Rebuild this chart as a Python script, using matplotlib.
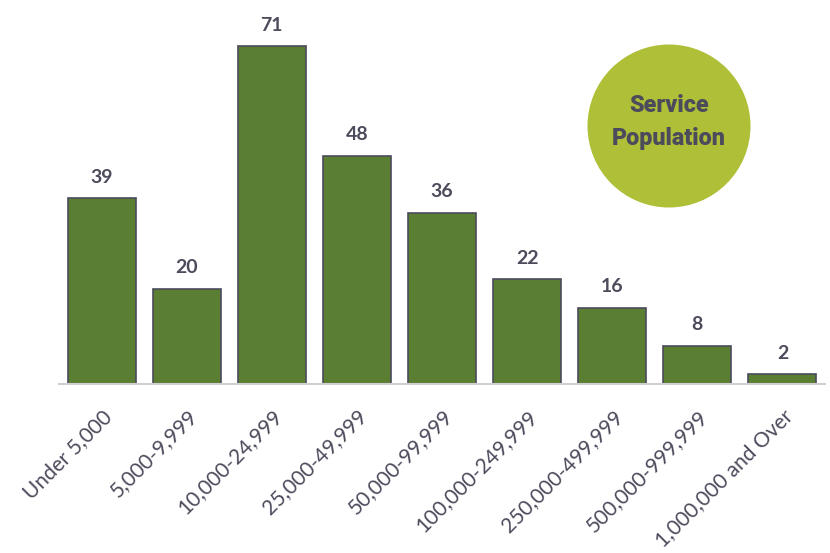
import matplotlib.pyplot as plt
from matplotlib.patches import Circle

categories = ["Under 5,000", "5,000-9,999", "10,000-24,999", "25,000-49,999",
              "50,000-99,999", "100,000-249,999", "250,000-499,999",
              "500,000-999,999", "1,000,000 and Over"]
counts = [39, 20, 71, 48, 36, 22, 16, 8, 2]

bar_color = "#5a7f32"
edge_color = "#4b4b5c"
text_color = "#4b4b5c"

fig = plt.figure(figsize=(8.3, 5.53), dpi=100)
ax = fig.add_axes([59/830, 169/553, 766/830, 384/553])

x = range(len(categories))
ax.bar(x, counts, width=0.8, color=bar_color, edgecolor=edge_color, linewidth=1.2, zorder=2)
for i, v in zip(x, counts):
    ax.annotate(str(v), (i, v), xytext=(0, 9), textcoords="offset points",
                ha="center", va="bottom", fontsize=14, fontweight="bold",
                color=text_color, family="Lato")

ax.set_xlim(-0.5, len(categories) - 0.5)
ax.set_ylim(0, 80.7)
ax.set_xticks(list(x))
ax.set_xticklabels(categories, rotation=45, ha="right", rotation_mode="anchor",
                   fontsize=15, color=text_color, family="Lato")
ax.tick_params(axis="x", length=0, pad=16)
ax.set_yticks([])
for s in ["top", "right", "left"]:
    ax.spines[s].set_visible(False)
ax.spines["bottom"].set_color("#d0d0d0")
ax.spines["bottom"].set_linewidth(1.5)

# badge circle
circ = Circle((6.69, 5.53 - 1.26), 0.815, transform=fig.dpi_scale_trans,
              facecolor="#afbf37", edgecolor="none")
fig.add_artist(circ)
fig.text(669/830, 1 - 122/553, "Service\nPopulation", ha="center", va="center",
         fontsize=16.8, fontweight="heavy", color=text_color,
         family=["Roboto", "DejaVu Sans"], linespacing=1.55)

fig.savefig("out.png", dpi=100)
